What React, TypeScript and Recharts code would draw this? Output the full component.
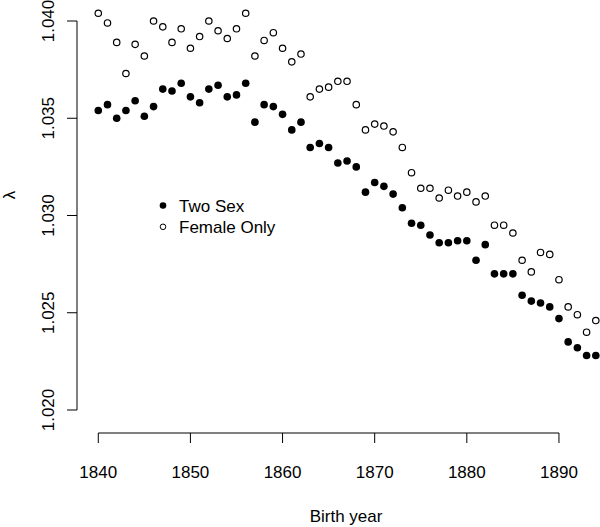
import React from 'react'
import {
  ScatterChart,
  Scatter,
  XAxis,
  YAxis,
  ReferenceLine
} from 'recharts'

// birth cohorts
const years = [
  1840, 1841, 1842, 1843, 1844, 1845, 1846, 1847, 1848, 1849,
  1850, 1851, 1852, 1853, 1854, 1855, 1856, 1857, 1858, 1859,
  1860, 1861, 1862, 1863, 1864, 1865, 1866, 1867, 1868, 1869,
  1870, 1871, 1872, 1873, 1874, 1875, 1876, 1877, 1878, 1879,
  1880, 1881, 1882, 1883, 1884, 1885, 1886, 1887, 1888, 1889,
  1890, 1891, 1892, 1893, 1894
]

const twoSex = [
  1.0354, 1.0357, 1.0350, 1.0354, 1.0359, 1.0351, 1.0356, 1.0365, 1.0364, 1.0368,
  1.0361, 1.0358, 1.0365, 1.0367, 1.0361, 1.0362, 1.0368, 1.0348, 1.0357, 1.0356,
  1.0352, 1.0344, 1.0348, 1.0335, 1.0337, 1.0335, 1.0327, 1.0328, 1.0325, 1.0312,
  1.0317, 1.0315, 1.0311, 1.0304, 1.0296, 1.0295, 1.0290, 1.0286, 1.0286, 1.0287,
  1.0287, 1.0277, 1.0285, 1.0270, 1.0270, 1.0270, 1.0259, 1.0256, 1.0255, 1.0253,
  1.0247, 1.0235, 1.0232, 1.0228, 1.0228
]

const femaleOnly = [
  1.0404, 1.0399, 1.0389, 1.0373, 1.0388, 1.0382, 1.0400, 1.0397, 1.0389, 1.0396,
  1.0386, 1.0392, 1.0400, 1.0395, 1.0391, 1.0396, 1.0404, 1.0382, 1.0390, 1.0394,
  1.0386, 1.0379, 1.0383, 1.0361, 1.0365, 1.0366, 1.0369, 1.0369, 1.0357, 1.0344,
  1.0347, 1.0346, 1.0343, 1.0335, 1.0322, 1.0314, 1.0314, 1.0309, 1.0313, 1.0310,
  1.0312, 1.0307, 1.0310, 1.0295, 1.0295, 1.0291, 1.0277, 1.0271, 1.0281, 1.0280,
  1.0267, 1.0253, 1.0249, 1.0240, 1.0246
]

const xTicks = [1840, 1850, 1860, 1870, 1880, 1890]
const yTicks = [1.02, 1.025, 1.03, 1.035, 1.04]

const FONT = '"Liberation Sans", Arial, sans-serif'
const X_DOMAIN: [number, number] = [1837.69, 1896.3]
const Y_DOMAIN: [number, number] = [1.018817, 1.040823]

const twoSexPts = years.map((x, i) => ({ x, y: twoSex[i] }))
const femalePts = years.map((x, i) => ({ x, y: femaleOnly[i] }))

const FilledDot = (p: any) => <circle cx={p.cx} cy={p.cy} r={3.8} fill="#000" />
const OpenDot = (p: any) => (
  <circle cx={p.cx} cy={p.cy} r={3.2} fill="#fff" stroke="#000" strokeWidth={1.2} />
)

const XTick = ({ x, y, payload }: any) => (
  <text x={x} y={y + 33} textAnchor="middle" fontSize={17} fontFamily={FONT} fill="#000">
    {payload.value}
  </text>
)

const YTick = ({ y, payload }: any) => (
  <text
    x={54}
    y={y}
    transform={`rotate(-90, 54, ${y})`}
    textAnchor="middle"
    fontSize={17}
    fontFamily={FONT}
    fill="#000"
  >
    {payload.value.toFixed(3)}
  </text>
)

export default function App() {
  return (
    <div
      style={{
        position: 'absolute',
        left: 0,
        top: 0,
        width: 600,
        height: 527,
        overflow: 'hidden',
        background: '#fff'
      }}
    >
      <ScatterChart width={617} height={527} margin={{ top: 5, right: 0, bottom: 0, left: 0 }}>
        <XAxis
          type="number"
          dataKey="x"
          domain={X_DOMAIN}
          ticks={xTicks}
          allowDataOverflow
          axisLine={false}
          tickLine={{ stroke: '#000' }}
          tickSize={10}
          height={94}
          tick={<XTick />}
          interval={0}
        />
        <YAxis
          type="number"
          dataKey="y"
          domain={Y_DOMAIN}
          ticks={yTicks}
          allowDataOverflow
          axisLine={false}
          tickLine={{ stroke: '#000' }}
          tickSize={10}
          width={77}
          tick={<YTick />}
          interval={0}
        />
        <ReferenceLine
          segment={[{ x: 1840, y: Y_DOMAIN[0] }, { x: 1890, y: Y_DOMAIN[0] }]}
          stroke="#000"
          ifOverflow="visible"
        />
        <ReferenceLine
          segment={[{ x: X_DOMAIN[0], y: 1.02 }, { x: X_DOMAIN[0], y: 1.04 }]}
          stroke="#000"
          ifOverflow="visible"
        />
        <Scatter data={femalePts} shape={OpenDot} isAnimationActive={false} />
        <Scatter data={twoSexPts} shape={FilledDot} isAnimationActive={false} />
      </ScatterChart>

      {/* axis titles */}
      <svg
        width={600}
        height={527}
        style={{ position: 'absolute', left: 0, top: 0, pointerEvents: 'none' }}
      >
        <text x={346} y={522} textAnchor="middle" fontSize={17} fontFamily={FONT} fill="#000">
          Birth year
        </text>
        <text
          x={15}
          y={195}
          transform="rotate(-90, 15, 195)"
          textAnchor="middle"
          fontSize={17}
          fontFamily={FONT}
          fill="#000"
        >
          λ
        </text>
        {/* legend */}
        <circle cx={163} cy={205.5} r={3.3} fill="#000" />
        <text x={179} y={211.5} fontSize={17} fontFamily={FONT} fill="#000">
          Two Sex
        </text>
        <circle cx={163} cy={226.8} r={2.8} fill="#fff" stroke="#000" strokeWidth={1} />
        <text x={179} y={232.8} fontSize={17} fontFamily={FONT} fill="#000">
          Female Only
        </text>
      </svg>
    </div>
  )
}
